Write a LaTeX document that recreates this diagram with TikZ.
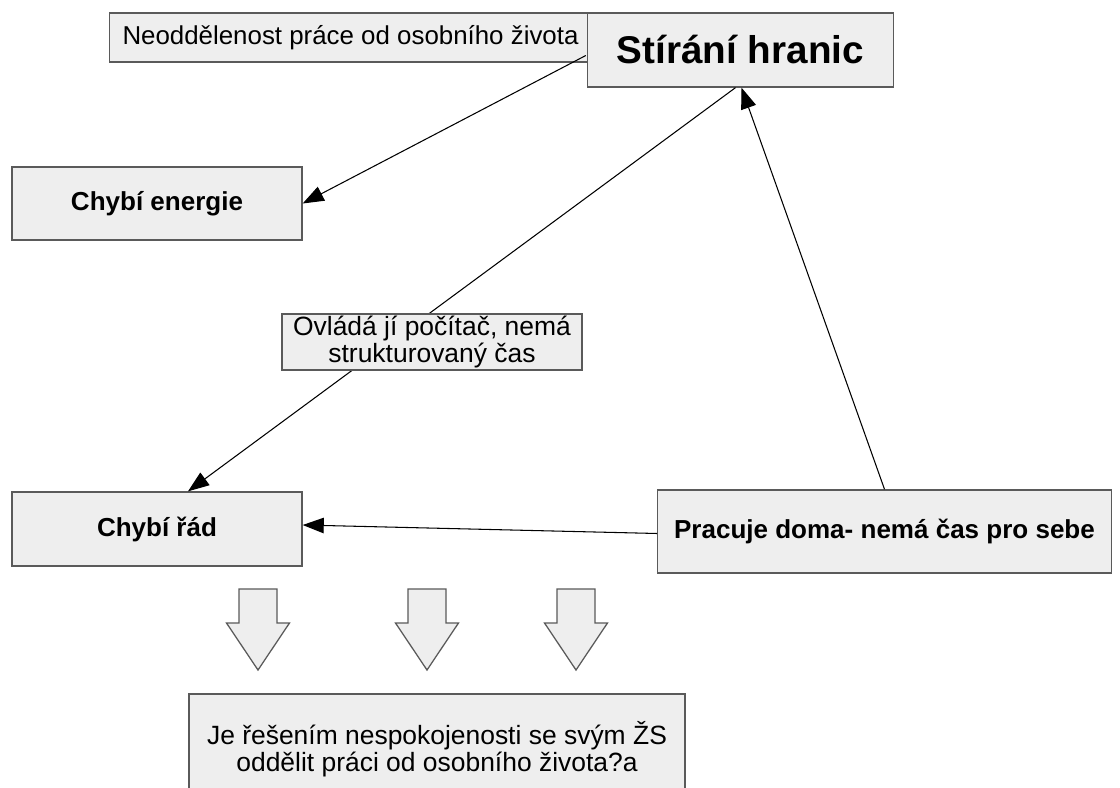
\documentclass[tikz,border=0pt]{standalone}
\usepackage{fontspec}
\setmainfont{Liberation Sans}
\usetikzlibrary{arrows.meta}
\definecolor{boxfill}{HTML}{EEEEEE}
\definecolor{boxline}{HTML}{5A5A5A}
\begin{document}
\begin{tikzpicture}[x=0.025cm,y=-0.025cm,
	font=\fontsize{18.8}{19.5}\selectfont,
	box/.style={draw=boxline,fill=boxfill,line width=0.9pt,inner sep=0pt,align=center},
	boldbox/.style={box,font=\fontsize{18.5}{19.5}\selectfont\bfseries},
	arr/.style={-{Triangle[length=15pt,width=11pt]},line width=0.75pt}]
	\clip (0,0) rectangle (1120,788);
	\fill[white] (0,0) rectangle (1120,788);
	% boxes
	\node[box,minimum width=12.03cm,minimum height=1.23cm,font=\fontsize{18.4}{19.5}\selectfont] (neodd) at (350.5,37.5) {Neoddělenost práce od osobního života};
	\node[box,minimum width=7.63cm,minimum height=1.85cm,font=\fontsize{27.5}{28}\selectfont\bfseries] (stirani) at (740.5,50) {Stírání hranic};
	\node[boldbox,minimum width=7.25cm,minimum height=1.83cm] (energie) at (157,203.5) {Chybí energie};
	\node[boldbox,minimum width=7.25cm,minimum height=1.85cm] (rad) at (157,529) {Chybí řád};
	\node[boldbox,minimum width=11.33cm,minimum height=2.08cm] (pracuje) at (884.5,531.5) {Pracuje doma- nemá čas pro sebe};
	\node[box,minimum width=12.4cm,minimum height=2.75cm] (reseni) at (437,749) {Je řešením nespokojenosti se svým ŽS\\oddělit práci od osobního života?a};
	% connectors
	\draw[arr] ([shift={(-6,18)}]neodd.east) -- (energie.east);
	\draw[arr] ([shift={(-5,0)}]stirani.south) -- ([shift={(31,0)}]rad.north);
	\draw[arr] (pracuje.north) -- ([shift={(1,0)}]stirani.south);
	\draw[arr] ([shift={(0,2)}]pracuje.west) -- ([shift={(0,-4)}]rad.east);
	\node[box,minimum width=7.5cm,minimum height=1.4cm] (ovlada) at (432,342) {Ovládá jí počítač, nemá\\strukturovaný čas};
	% down arrows
	\foreach \cx in {258,427,576}
	\draw[draw=boxline,fill=boxfill,line width=0.9pt] (\cx-19,589) -- (\cx+19,589) -- (\cx+19,623) -- (\cx+31.5,623)
		-- (\cx,670) -- (\cx-31.5,623) -- (\cx-19,623) -- cycle;
\end{tikzpicture}
\end{document}
